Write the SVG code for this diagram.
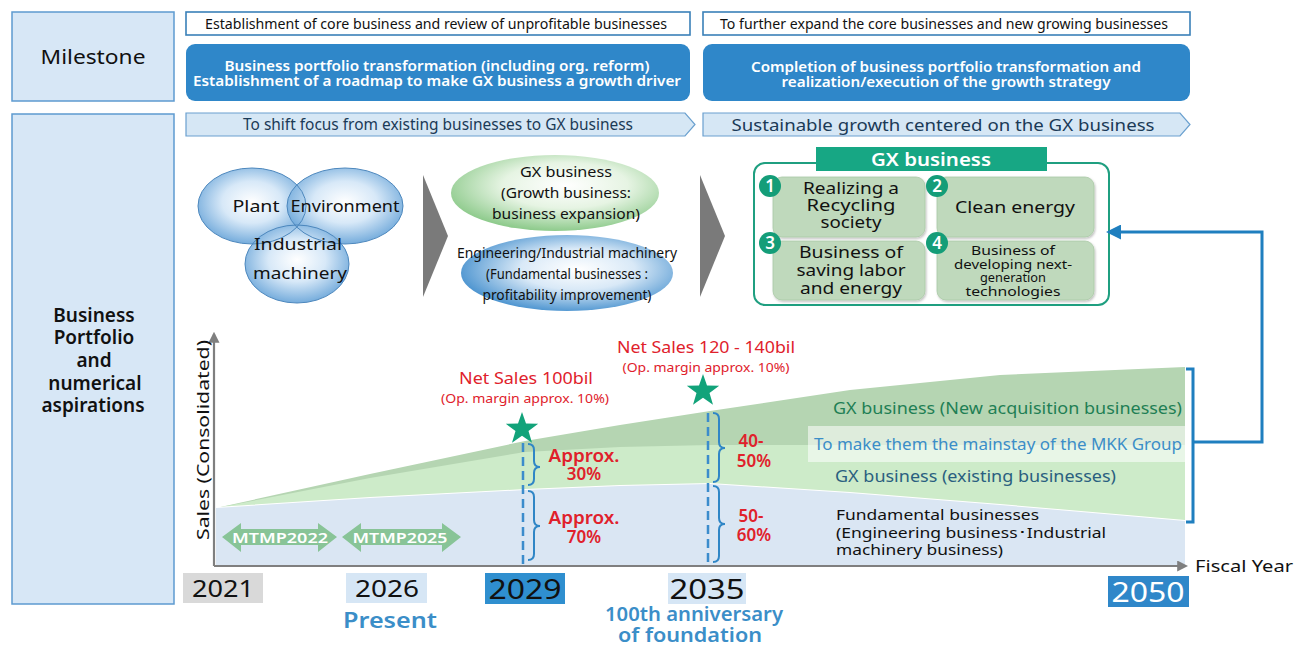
<svg xmlns="http://www.w3.org/2000/svg" width="1307" height="657" viewBox="0 0 1307 657">
<defs>
<style>
text{font-family:"Noto Sans","DejaVu Sans",sans-serif;fill:#111}
.c{text-anchor:middle}
.lbox{fill:#d7e7f6;stroke:#5d9ad0;stroke-width:1.5}
.wbox{fill:#fff;stroke:#3a80b8;stroke-width:1.6}
.bbox{fill:#2f87c9}
.ban{fill:#d6e7f5;stroke:#6aa0cf;stroke-width:1.2}
.wt{fill:#fff;font-weight:600}
.red{fill:#e0212b}
.tile{fill:#bfd9bc;stroke:#a9c9a6;stroke-width:0.8}
.num{fill:#149d78}
.dash{stroke:#3b8ccc;stroke-width:2.5;stroke-dasharray:9,5;fill:none}
.brace{stroke:#2f86c6;stroke-width:2;fill:none}
.star{fill:#12a37a}
.mtmp{fill:#88c497}
</style>
<radialGradient id="gB" cx="50%" cy="45%" r="55%">
<stop offset="0" stop-color="#ffffff"/><stop offset="0.5" stop-color="#d3e6f7"/><stop offset="1" stop-color="#66a3d8"/>
</radialGradient>
<radialGradient id="gG" cx="55%" cy="40%" r="60%">
<stop offset="0" stop-color="#ffffff"/><stop offset="0.5" stop-color="#e6f4e3"/><stop offset="1" stop-color="#8fcb8d"/>
</radialGradient>
<radialGradient id="gE" cx="55%" cy="45%" r="60%">
<stop offset="0" stop-color="#ffffff"/><stop offset="0.45" stop-color="#d9e9f7"/><stop offset="1" stop-color="#3f8ccc"/>
</radialGradient>
<marker id="ah" viewBox="0 0 10 10" refX="2" refY="5" markerWidth="5" markerHeight="5" orient="auto-start-reverse">
<path d="M0,0 L10,5 L0,10 z" fill="#1f7fbf"/>
</marker>
<marker id="gah" viewBox="0 0 10 10" refX="8" refY="5" markerWidth="5" markerHeight="5" orient="auto">
<path d="M0,0 L10,5 L0,10 z" fill="#7f7f7f"/>
</marker>
<path id="star" d="M0,-17 L4,-5.5 L16.2,-5.3 L6.5,2.1 L10,13.8 L0,6.8 L-10,13.8 L-6.5,2.1 L-16.2,-5.3 L-4,-5.5 Z"/>
<filter id="sh" x="-10%" y="-10%" width="120%" height="130%"><feDropShadow dx="1" dy="1.5" stdDeviation="1.2" flood-color="#000" flood-opacity="0.25"/></filter>
</defs>
<rect width="1307" height="657" fill="#fff"/>

<g id="milestone-label">
<rect class="lbox" x="12" y="12" width="162" height="89"/>
<text class="c" x="93" y="64" font-size="20" textLength="105" lengthAdjust="spacingAndGlyphs">Milestone</text>
</g>
<g id="portfolio-label">
<rect class="lbox" x="12" y="114" width="162" height="490"/>
<g font-size="19" font-weight="600">
<text class="c" x="94" y="322">Business</text>
<text class="c" x="94" y="344">Portfolio</text>
<text class="c" x="94" y="367">and</text>
<text class="c" x="95" y="390">numerical</text>
<text class="c" x="93" y="412">aspirations</text>
</g>
</g>

<g id="milestone-1">
<rect class="wbox" x="186" y="12" width="504" height="23"/>
<text class="c" x="436" y="29" font-size="14" textLength="462" lengthAdjust="spacingAndGlyphs">Establishment of core business and review of unprofitable businesses</text>
<rect class="bbox" x="186" y="44" width="504" height="57" rx="9"/>
<text class="c wt" x="437" y="71" font-size="14" textLength="425" lengthAdjust="spacingAndGlyphs">Business portfolio transformation (including org. reform)</text>
<text class="c wt" x="437" y="86" font-size="14" textLength="488" lengthAdjust="spacingAndGlyphs">Establishment of a roadmap to make GX business a growth driver</text>
</g>
<g id="milestone-2">
<rect class="wbox" x="703" y="12" width="487" height="23"/>
<text class="c" x="944" y="29" font-size="14" textLength="448" lengthAdjust="spacingAndGlyphs">To further expand the core businesses and new growing businesses</text>
<rect class="bbox" x="703" y="44" width="487" height="57" rx="9"/>
<text class="c wt" x="946" y="72" font-size="14" textLength="390" lengthAdjust="spacingAndGlyphs">Completion of business portfolio transformation and</text>
<text class="c wt" x="946" y="87" font-size="14" textLength="329" lengthAdjust="spacingAndGlyphs">realization/execution of the growth strategy</text>
</g>

<g id="banner-1">
<polygon class="ban" points="186,113 685,113 695,124.5 685,136 186,136"/>
<text class="c" x="438" y="130" font-size="15.5" style="fill:#1b3a57" textLength="390" lengthAdjust="spacingAndGlyphs">To shift focus from existing businesses to GX business</text>
</g>
<g id="banner-2">
<polygon class="ban" points="703,113 1180,113 1190,124.5 1180,136 703,136"/>
<text class="c" x="943" y="131" font-size="16" style="fill:#1b3a57" textLength="423" lengthAdjust="spacingAndGlyphs">Sustainable growth centered on the GX business</text>
</g>

<g id="venn">
<ellipse cx="252" cy="206" rx="54" ry="38" fill="url(#gB)" opacity="0.9"/>
<ellipse cx="345" cy="206" rx="58" ry="38" fill="url(#gB)" opacity="0.9"/>
<ellipse cx="297" cy="264" rx="52" ry="39" fill="url(#gB)" opacity="0.9"/>
<g fill="none" stroke="#4c87bd" stroke-width="1">
<ellipse cx="252" cy="206" rx="54" ry="38"/>
<ellipse cx="345" cy="206" rx="58" ry="38"/>
<ellipse cx="297" cy="264" rx="52" ry="39"/>
</g>
<text class="c" x="256" y="212" font-size="17" textLength="47" lengthAdjust="spacingAndGlyphs">Plant</text>
<text class="c" x="345" y="212" font-size="17" textLength="109" lengthAdjust="spacingAndGlyphs">Environment</text>
<text class="c" x="298" y="250" font-size="17" textLength="88" lengthAdjust="spacingAndGlyphs">Industrial</text>
<text class="c" x="300" y="279" font-size="17" textLength="94" lengthAdjust="spacingAndGlyphs">machinery</text>
</g>

<g id="chevron-1"><polygon points="423,175 448,236 423,297" fill="#7a7a7a"/></g>
<g id="chevron-2"><polygon points="700,175 725,236 700,297" fill="#7a7a7a"/></g>

<g id="gx-ellipse">
<ellipse cx="555" cy="193" rx="104" ry="38" fill="url(#gG)"/>
<text class="c" x="566" y="177" font-size="13.5" textLength="92" lengthAdjust="spacingAndGlyphs">GX business</text>
<text class="c" x="566" y="198" font-size="13.5" textLength="130" lengthAdjust="spacingAndGlyphs">(Growth business:</text>
<text class="c" x="566" y="219" font-size="13.5" textLength="148" lengthAdjust="spacingAndGlyphs">business expansion)</text>
</g>
<g id="eng-ellipse">
<ellipse cx="567" cy="273" rx="106" ry="38" fill="url(#gE)"/>
<text class="c" x="567" y="258" font-size="13.5" textLength="220" lengthAdjust="spacingAndGlyphs">Engineering/Industrial machinery</text>
<text class="c" x="567" y="279" font-size="13.5" textLength="162" lengthAdjust="spacingAndGlyphs">(Fundamental businesses :</text>
<text class="c" x="567" y="300" font-size="13.5" textLength="169" lengthAdjust="spacingAndGlyphs">profitability improvement)</text>
</g>

<g id="gx-box">
<rect x="754" y="163" width="355" height="142" rx="11" fill="#fff" stroke="#1f9f80" stroke-width="2"/>
<rect x="816" y="147" width="231" height="24" fill="#17a784"/>
<text class="c wt" x="931" y="166" font-size="18" textLength="120" lengthAdjust="spacingAndGlyphs">GX business</text>
<g filter="url(#sh)">
<rect class="tile" x="773" y="177" width="152" height="60" rx="9"/>
<rect class="tile" x="937" y="177" width="157" height="60" rx="9"/>
<rect class="tile" x="773" y="241" width="152" height="59" rx="9"/>
<rect class="tile" x="937" y="241" width="157" height="59" rx="9"/>
</g>
<g font-size="16">
<text class="c" x="851" y="194" textLength="96" lengthAdjust="spacingAndGlyphs">Realizing a</text>
<text class="c" x="851" y="211" textLength="89" lengthAdjust="spacingAndGlyphs">Recycling</text>
<text class="c" x="851" y="228" textLength="61" lengthAdjust="spacingAndGlyphs">society</text>
<text class="c" x="1015" y="213" textLength="120" lengthAdjust="spacingAndGlyphs">Clean energy</text>
</g>
<g font-size="17">
<text class="c" x="851" y="258" textLength="104" lengthAdjust="spacingAndGlyphs">Business of</text>
<text class="c" x="851" y="276" textLength="109" lengthAdjust="spacingAndGlyphs">saving labor</text>
<text class="c" x="851" y="294" textLength="102" lengthAdjust="spacingAndGlyphs">and energy</text>
</g>
<g font-size="12.5">
<text class="c" x="1013" y="255" textLength="84" lengthAdjust="spacingAndGlyphs">Business of</text>
<text class="c" x="1013" y="268.5" textLength="118" lengthAdjust="spacingAndGlyphs">developing next-</text>
<text class="c" x="1013" y="282" textLength="66" lengthAdjust="spacingAndGlyphs">generation</text>
<text class="c" x="1013" y="295.5" textLength="95" lengthAdjust="spacingAndGlyphs">technologies</text>
</g>
<g>
<circle class="num" cx="770" cy="186" r="11"/><text class="c wt" x="770" y="192" font-size="17" font-weight="700">1</text>
<circle class="num" cx="937" cy="186" r="11"/><text class="c wt" x="937" y="192" font-size="17" font-weight="700">2</text>
<circle class="num" cx="770" cy="243" r="11"/><text class="c wt" x="770" y="249" font-size="17" font-weight="700">3</text>
<circle class="num" cx="937" cy="243" r="11"/><text class="c wt" x="937" y="249" font-size="17" font-weight="700">4</text>
</g>
</g>

<g id="chart">
<polygon points="216,508 370,474 525,441 620,425 710,411 850,390 1000,375 1185,367 1185,565 216,565" fill="#b5d5b2"/>
<polygon points="216,508 370,478 525,452 620,447 710,445 1185,445 1185,565 216,565" fill="#cdebc9"/>
<polyline points="216,508 370,498 525,490 620,486 710,484 850,493 1000,505 1185,521" fill="none" stroke="#fff" stroke-width="2"/>
<polygon points="216,508 370,498 525,490 620,486 710,484 850,493 1000,505 1185,521 1185,565 216,565" fill="#dae6f3"/>
<rect x="808" y="426" width="377" height="36" fill="#fff" opacity="0.55"/>
<text x="833" y="414" font-size="16" style="fill:#1f7f55" textLength="349" lengthAdjust="spacingAndGlyphs">GX business (New acquisition businesses)</text>
<text x="814" y="450" font-size="16" style="fill:#3b8ec8" textLength="368" lengthAdjust="spacingAndGlyphs">To make them the mainstay of the MKK Group</text>
<text x="835" y="482" font-size="16" style="fill:#2a5f80" textLength="281" lengthAdjust="spacingAndGlyphs">GX business (existing businesses)</text>
<text x="836" y="520" font-size="15" textLength="203" lengthAdjust="spacingAndGlyphs">Fundamental businesses</text>
<text x="836" y="538" font-size="15" textLength="270" lengthAdjust="spacingAndGlyphs">(Engineering business･Industrial</text>
<text x="836" y="555" font-size="15" textLength="167" lengthAdjust="spacingAndGlyphs">machinery business)</text>

<g id="mtmp">
<polygon class="mtmp" points="222,537 241,523 241,529 318,529 318,523 337,537 318,552 318,545 241,545 241,552"/>
<text class="c" x="280" y="543" font-size="15" style="fill:#fff" font-weight="600" textLength="96" lengthAdjust="spacingAndGlyphs">MTMP2022</text>
<polygon class="mtmp" points="342,537 361,523 361,529 442,529 442,523 461,537 442,552 442,545 361,545 361,552"/>
<text class="c" x="400" y="543" font-size="15" style="fill:#fff" font-weight="600" textLength="95" lengthAdjust="spacingAndGlyphs">MTMP2025</text>
</g>
</g>

<g id="axes" stroke="#7f7f7f" stroke-width="2.2" fill="none">
<line x1="214" y1="566" x2="1186" y2="566" marker-end="url(#gah)"/>
<line x1="214" y1="566" x2="214" y2="334" marker-end="url(#gah)"/>
</g>
<text x="1195" y="572" font-size="17" textLength="98" lengthAdjust="spacingAndGlyphs">Fiscal Year</text>
<text class="c" transform="translate(209,440) rotate(-90)" font-size="17" textLength="200" lengthAdjust="spacingAndGlyphs">Sales (Consolidated)</text>

<g id="marker-2029">
<line class="dash" x1="523" y1="443" x2="523" y2="565"/>
<path class="brace" d="M528,444 q6,0 6,6 v11 q0,6 6,6 q-6,0 -6,6 v6 q0,6 -6,6"/>
<path class="brace" d="M528,491 q6,0 6,6 v23 q0,6 6,6 q-6,0 -6,6 v22 q0,6 -6,6"/>
<g font-size="17" font-weight="600">
<text class="c red" x="584" y="462" textLength="71" lengthAdjust="spacingAndGlyphs">Approx.</text>
<text class="c red" x="584" y="480">30%</text>
<text class="c red" x="584" y="524" textLength="71" lengthAdjust="spacingAndGlyphs">Approx.</text>
<text class="c red" x="584" y="543">70%</text>
</g>
<use href="#star" class="star" x="522" y="429"/>
<text class="c red" x="526" y="384" font-size="17" textLength="134" lengthAdjust="spacingAndGlyphs">Net Sales 100bil</text>
<text class="c red" x="525" y="403" font-size="12" textLength="168" lengthAdjust="spacingAndGlyphs">(Op. margin  approx. 10%)</text>
</g>
<g id="marker-2035">
<line class="dash" x1="708" y1="413" x2="708" y2="565"/>
<path class="brace" d="M713,413 q6,0 6,6 v23 q0,6 6,6 q-6,0 -6,6 v22 q0,6 -6,6"/>
<path class="brace" d="M713,486 q6,0 6,6 v26 q0,6 6,6 q-6,0 -6,6 v26 q0,6 -6,6"/>
<g font-size="17" font-weight="600">
<text class="c red" x="751" y="447">40-</text>
<text class="c red" x="754" y="467">50%</text>
<text class="c red" x="751" y="522">50-</text>
<text class="c red" x="754" y="541">60%</text>
</g>
<use href="#star" class="star" x="703" y="391"/>
<text class="c red" x="706" y="353" font-size="17" textLength="178" lengthAdjust="spacingAndGlyphs">Net Sales 120 - 140bil</text>
<text class="c red" x="706" y="372" font-size="12" textLength="167" lengthAdjust="spacingAndGlyphs">(Op. margin approx. 10%)</text>
</g>

<g id="connectors">
<path d="M1186,369 H1193 V522 H1186" fill="none" stroke="#1f7fbf" stroke-width="3"/>
<path d="M1193,442 H1262 V232 H1118" fill="none" stroke="#1f7fbf" stroke-width="3" marker-end="url(#ah)"/>
</g>

<g id="years">
<rect x="183" y="573" width="80" height="30" fill="#d9d9d9"/>
<text class="c" x="223" y="597" font-size="24" textLength="62" lengthAdjust="spacingAndGlyphs">2021</text>
<rect x="346" y="573" width="81" height="30" fill="#d6e6f5"/>
<text class="c" x="387" y="597" font-size="24" textLength="64" lengthAdjust="spacingAndGlyphs">2026</text>
<text class="c" x="390" y="628" font-size="22" font-weight="600" style="fill:#3b8ec8" textLength="94" lengthAdjust="spacingAndGlyphs">Present</text>
<rect x="485" y="573" width="80" height="31" fill="#2f8fcf"/>
<text class="c" x="525" y="599" font-size="28" textLength="73" lengthAdjust="spacingAndGlyphs">2029</text>
<rect x="668" y="573" width="78" height="31" fill="#d6e6f5"/>
<text class="c" x="707" y="599" font-size="28" textLength="75" lengthAdjust="spacingAndGlyphs">2035</text>
<text class="c" x="694" y="621" font-size="19" font-weight="600" style="fill:#3b8ec8" textLength="178" lengthAdjust="spacingAndGlyphs">100th anniversary</text>
<text class="c" x="690" y="642" font-size="19" font-weight="600" style="fill:#3b8ec8" textLength="144" lengthAdjust="spacingAndGlyphs">of foundation</text>
<rect x="1108" y="576" width="81" height="31" fill="#2f87c9"/>
<text class="c" x="1148" y="602" font-size="28" style="fill:#fff" textLength="73" lengthAdjust="spacingAndGlyphs">2050</text>
</g>
</svg>
